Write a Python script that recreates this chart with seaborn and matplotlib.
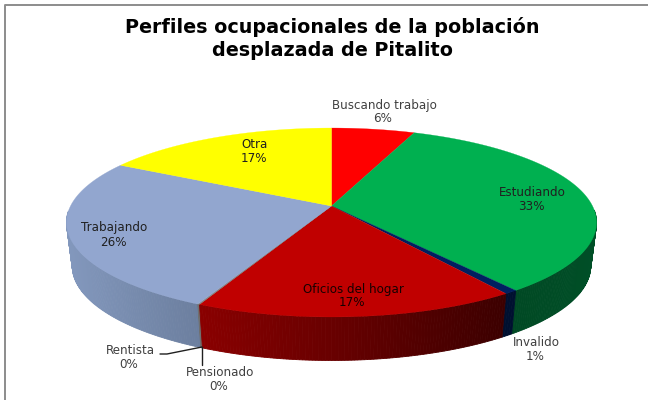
import numpy as np
import matplotlib
matplotlib.use('Agg')
import matplotlib.pyplot as plt
import seaborn as sns

categories = ['Buscando trabajo', 'Estudiando', 'Invalido', 'Oficios del hogar',
              'Pensionado', 'Rentista', 'Trabajando', 'Otra']
values = [6.0, 33.6, 0.7, 16.7, 0.05, 0.05, 25.9, 17.0]
pct_labels = ['6%', '33%', '1%', '17%', '0%', '0%', '26%', '17%']

colors = sns.color_palette(['#FF0000', '#00B050', '#002060', '#C00000',
                            '#7F7F7F', '#7F7F7F', '#92A6CF', '#FFFF00'])
# side wall colour at the left and right end of each slice
side_left = ['#800000', '#00401F', '#001030', '#8A0000',
             '#6F6F6F', '#6F6F6F', '#8398BD', '#808000']
side_right = ['#800000', '#004F27', '#001030', '#3C0000',
              '#6F6F6F', '#6F6F6F', '#6C7F9F', '#808000']

# label centres in pixels
label_pos = [(384, 105), (532, 193), (536, 343), (353, 289),
             (220, 373), (130, 350), (114, 228), (255, 145)]
label_colors = ['#404040', '#202020', '#404040', '#180000',
                '#404040', '#404040', '#202020', '#202020']

# projection of the pie disc
CX, CY = 331.5, 206
A, B, K = 261, 91.6, 0.1746
DEPTH, SHRINK = 43.5, 0.978


def top_rim(theta):
    u, v = np.sin(theta), -np.cos(theta)
    d = 1 - K * v
    return CX + A * u / d, CY + B * v / d


def low_rim(theta):
    x, y = top_rim(theta)
    return CX + SHRINK * (x - CX), y + DEPTH


sns.set_theme(style='white')
plt.rcParams['font.family'] = ['DejaVu Sans']

fig = plt.figure(figsize=(6.48, 4.0), dpi=100, facecolor='white')
ax = fig.add_axes([0, 0, 1, 1])
ax.set_xlim(0, 648)
ax.set_ylim(400, 0)
ax.axis('off')

# frame of the pasted chart, only top and left show
ax.plot([5, 5, 648], [400, 4.5, 4.5], color='#8C8C8C', lw=1.4, zorder=1)

edges = np.cumsum([0] + values) / sum(values) * 2 * np.pi

# side wall, back to front
strips = []
for i in range(len(values)):
    n = max(2, int(values[i] * 6))
    t = np.linspace(edges[i], edges[i + 1], n + 1)
    c0 = np.array(matplotlib.colors.to_rgb(side_left[i]))
    c1 = np.array(matplotlib.colors.to_rgb(side_right[i]))
    xa, _ = top_rim(t)
    for j in range(n):
        if np.cos((t[j] + t[j + 1]) / 2) > -0.05:
            continue
        x0, y0 = top_rim(t[j])
        x1, y1 = top_rim(t[j + 1])
        x2, y2 = low_rim(t[j + 1])
        x3, y3 = low_rim(t[j])
        f = ((x0 + x1) / 2 - xa.min()) / max(xa.max() - xa.min(), 1)
        col = c0 + (c1 - c0) * f
        strips.append((-np.cos(t[j]), [x0, x1, x2, x3], [y0, y1, y2, y3], col))
for _, xs, ys, col in sorted(strips, key=lambda s: s[0]):
    ax.fill(xs, ys, color=col, lw=0.6, zorder=2)

# top face
for i in range(len(values)):
    t = np.linspace(edges[i], edges[i + 1], 100)
    x, y = top_rim(t)
    ax.fill(np.r_[CX, x], np.r_[CY, y], color=colors[i], lw=0.2, zorder=3)

# leader lines for the two empty slices
ax.plot([202, 167, 160], [347, 354, 354], color='#202020', lw=1, zorder=4)
ax.plot([202, 202], [347, 365], color='#202020', lw=1, zorder=4)

for name, pct, (lx, ly), lc in zip(categories, pct_labels, label_pos, label_colors):
    ax.text(lx, ly, name, ha='center', va='center', fontsize=8.6, color=lc, zorder=5)
    ax.text(lx - 1, ly + 14, pct, ha='center', va='center', fontsize=8.6, color=lc, zorder=5)

ax.text(332, 27, 'Perfiles ocupacionales de la población', ha='center', va='center',
        fontsize=13.8, fontweight='bold', color='black')
ax.text(332, 50, 'desplazada de Pitalito', ha='center', va='center',
        fontsize=13.8, fontweight='bold', color='black')

fig.savefig('out.png', dpi=100)
